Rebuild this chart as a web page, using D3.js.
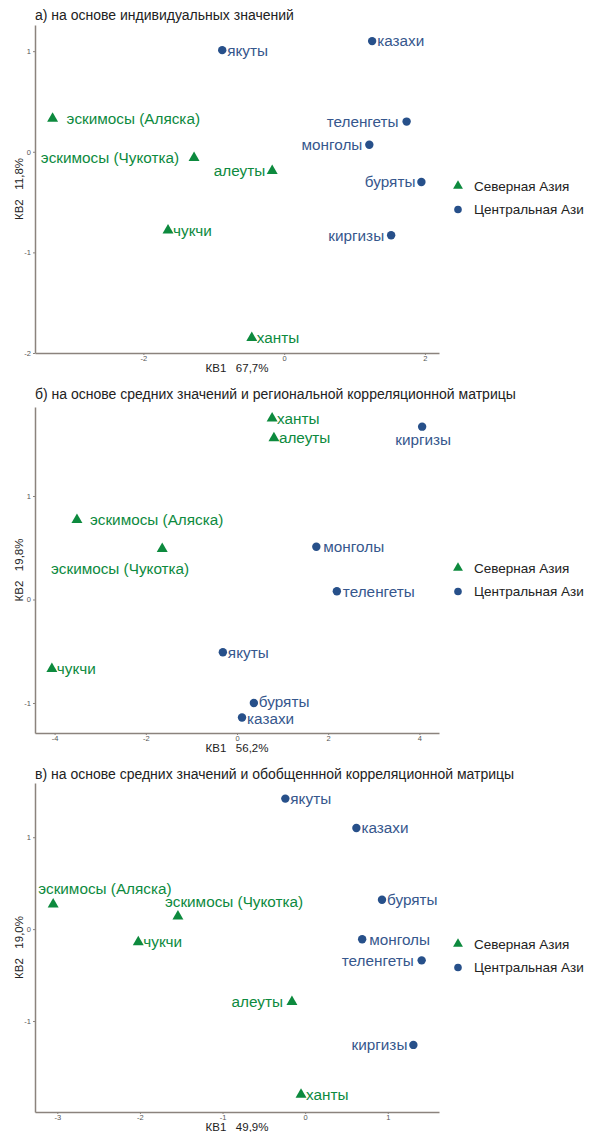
<!DOCTYPE html>
<html>
<head>
<meta charset="utf-8">
<script src="https://cdn.jsdelivr.net/npm/d3@7"></script>
<style>
  body { margin: 0; background: #fff; }
  text { font-family: "Liberation Sans", Arial, sans-serif; }
</style>
</head>
<body>
<svg id="canvas" width="593" height="1132"></svg>
<script>
// peoples, same order in every panel
let peoples = ['эскимосы (Аляска)', 'эскимосы (Чукотка)', 'алеуты', 'чукчи', 'ханты',
  'якуты', 'казахи', 'теленгеты', 'монголы', 'буряты', 'киргизы']
let region = ['N', 'N', 'N', 'N', 'N', 'C', 'C', 'C', 'C', 'C', 'C']
let legendNames = ['Северная Азия', 'Центральная Ази']

let titles = [
  'а) на основе индивидуальных значений',
  'б) на основе средних значений и региональной корреляционной матрицы',
  'в) на основе средних значений и обобщеннной корреляционной матрицы'
]
let kv1Share = ['67,7%', '56,2%', '49,9%']
let kv2Share = ['11,8%', '19,8%', '19,0%']

// panel a
let kv1A = [-3.29, -1.28, -0.17, -1.65, -0.46, -0.88, 1.25, 1.74, 1.21, 1.95, 1.52]
let kv2A = [0.33, -0.06, -0.19, -0.78, -1.85, 1.01, 1.10, 0.30, 0.07, -0.30, -0.83]
// panel b
let kv1B = [-3.51, -1.64, 0.81, -4.06, 0.77, -0.31, 0.11, 2.19, 1.74, 0.37, 4.06]
let kv2B = [0.77, 0.49, 1.56, -0.67, 1.75, -0.51, -1.14, 0.08, 0.51, -1.00, 1.67]
// panel c
let kv1C = [-3.05, -1.54, -0.16, -2.02, -0.05, -0.24, 0.62, 1.41, 0.69, 0.93, 1.31]
let kv2C = [0.27, 0.14, -0.79, -0.14, -1.80, 1.42, 1.10, -0.34, -0.11, 0.32, -1.26]

let xTicks = [[-2, 0, 2], [-4, -2, 0, 2, 4], [-3, -2, -1, 0, 1]]
let yTicks = [[-2, -1, 0, 1], [-1, 0, 1], [-1, 0, 1]]
let xExtent = [[-3.54, 2.2], [-4.43, 4.43], [-3.27, 1.62]]
let yExtent = [[-2.0, 1.26], [-1.29, 1.86], [-1.99, 1.59]]

// label placement: [dx, dy, anchor]
let labelsA = [[14, 0, 'start'], [-15, 0, 'end'], [-7, 0, 'end'], [5, 0, 'start'], [5, 0, 'start'],
  [5, 0, 'start'], [5, 0, 'start'], [-8, 0, 'end'], [-7, 0, 'end'], [-6, 0, 'end'], [-7, 0, 'end']]
let labelsB = [[13, 0, 'start'], [27, 20, 'end'], [5, 0, 'start'], [5, 0, 'start'], [5, 0, 'start'],
  [5, 0, 'start'], [5, 1, 'start'], [6, 0, 'start'], [7, 0, 'start'], [5, -1, 'start'], [1, 13, 'middle']]
let labelsC = [[-15, -16, 'start'], [-13, -15, 'start'], [-9, 0, 'end'], [5, 0, 'start'], [5, 0, 'start'],
  [5, 0, 'start'], [5, 0, 'start'], [-8, 0, 'end'], [7, 0, 'start'], [5, 0, 'start'], [-6, 0, 'end']]

let green = '#0d8a3e'
let blue = '#27508a'
let blueText = '#36578d'
let axisColor = '#8b837d'

let canvas = d3.select('#canvas')

let panels = [
  { x: kv1A, y: kv2A, labels: labelsA, top: 25, bottom: 353, titleY: 20 },
  { x: kv1B, y: kv2B, labels: labelsB, top: 407, bottom: 733, titleY: 399 },
  { x: kv1C, y: kv2C, labels: labelsC, top: 783, bottom: 1112, titleY: 779 }
]

let left = 35, right = 439

let drawPanel = (p, i) => {
  let g = canvas.append('g')
  let xScale = d3.scaleLinear().domain(xExtent[i]).range([left, right])
  let yScale = d3.scaleLinear().domain(yExtent[i]).range([p.bottom, p.top])

  g.append('text')
    .attr('x', left)
    .attr('y', p.titleY)
    .attr('font-size', 14)
    .attr('fill', '#222')
    .text(titles[i])

  let xAxis = g.append('g')
    .attr('transform', 'translate(0,' + p.bottom + ')')
    .call(d3.axisBottom(xScale).tickValues(xTicks[i]).tickSize(2).tickPadding(1).tickSizeOuter(0).tickFormat(d => String(d)))
  let yAxis = g.append('g')
    .attr('transform', 'translate(' + left + ',0)')
    .call(d3.axisLeft(yScale).tickValues(yTicks[i]).tickSize(2).tickPadding(2).tickSizeOuter(0).tickFormat(d => String(d)))

  ;[xAxis, yAxis].forEach(ax => {
    ax.select('.domain').attr('stroke', axisColor).attr('stroke-width', 1.5)
    ax.selectAll('.tick line').attr('stroke', axisColor)
    ax.selectAll('.tick text').attr('font-size', 7.5).attr('fill', '#555')
      .style('font-family', '"Liberation Sans", Arial, sans-serif')
  })

  g.append('text')
    .attr('x', (left + right) / 2)
    .attr('y', p.bottom + 18.5)
    .attr('text-anchor', 'middle')
    .attr('font-size', 11.5)
    .attr('fill', '#222')
    .style('white-space', 'pre')
    .text('КВ1   ' + kv1Share[i])

  g.append('text')
    .attr('transform', 'translate(23,' + (p.top + p.bottom) / 2 + ') rotate(-90)')
    .attr('text-anchor', 'middle')
    .attr('font-size', 11.5)
    .attr('fill', '#222')
    .style('white-space', 'pre')
    .text('КВ2   ' + kv2Share[i])

  let rows = peoples.map((name, k) => ({ name: name, reg: region[k], x: p.x[k], y: p.y[k], lab: p.labels[k] }))

  let marks = g.selectAll('.mark')
    .data(rows)
    .enter()
    .append('g')
    .attr('class', 'mark')
    .attr('transform', d => 'translate(' + xScale(d.x) + ',' + yScale(d.y) + ')')

  marks.filter(d => d.reg === 'N')
    .append('path')
    .attr('d', d3.symbol(d3.symbolTriangle).size(52))
    .attr('fill', green)
  marks.filter(d => d.reg === 'C')
    .append('circle')
    .attr('r', 4.2)
    .attr('fill', blue)

  marks.append('text')
    .attr('x', d => d.lab[0])
    .attr('y', d => d.lab[1])
    .attr('dy', '0.35em')
    .attr('text-anchor', d => d.lab[2])
    .attr('font-size', 15.3)
    .attr('fill', d => d.reg === 'N' ? green : blueText)
    .text(d => d.name)

  // legend
  let ly = p.top + 161
  let legend = g.append('g').attr('transform', 'translate(458,' + ly + ')')
  legend.append('path')
    .attr('d', d3.symbol(d3.symbolTriangle).size(42))
    .attr('fill', green)
  legend.append('circle')
    .attr('cy', 23.5)
    .attr('r', 3.8)
    .attr('fill', blue)
  legend.selectAll('.lt')
    .data(legendNames)
    .enter()
    .append('text')
    .attr('x', 16)
    .attr('y', (d, k) => k * 23.5)
    .attr('dy', '0.35em')
    .attr('font-size', 13.5)
    .attr('fill', '#222')
    .text(d => d)
}

panels.forEach(drawPanel)
</script>
</body>
</html>
